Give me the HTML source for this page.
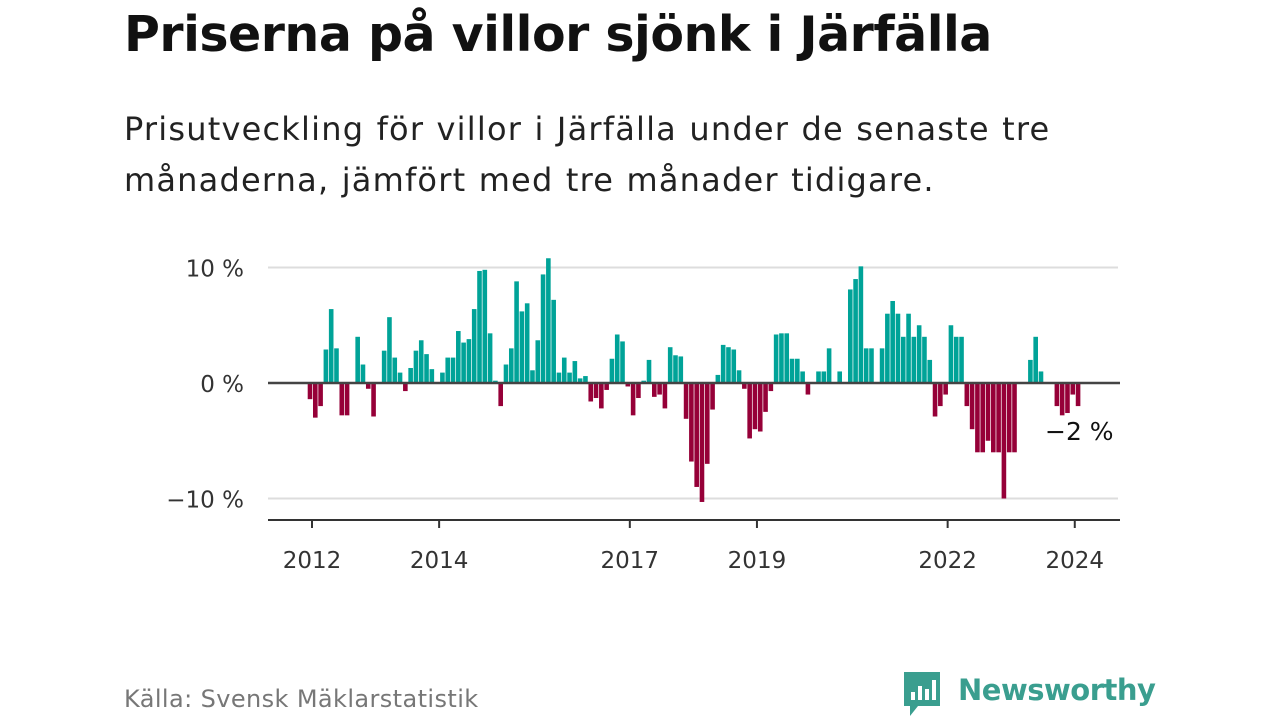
<!DOCTYPE html>
<html><head><meta charset="utf-8"><style>
body{margin:0;width:1280px;height:720px;background:#fff;font-family:"Liberation Sans","DejaVu Sans",sans-serif;overflow:hidden;position:relative}
.t{position:absolute;left:124px;top:6px;font-size:49px;font-weight:bold;color:#111;font-family:"DejaVu Sans","Liberation Sans",sans-serif;letter-spacing:-0.5px}
.s{position:absolute;left:124px;top:104px;font-size:32px;line-height:51px;color:#222;font-family:"DejaVu Sans","Liberation Sans",sans-serif;letter-spacing:1.2px;word-spacing:1px}
.src{position:absolute;left:124px;top:685px;font-size:24px;color:#777;font-family:"DejaVu Sans",sans-serif;letter-spacing:0.4px}
</style></head><body>
<div class="t">Priserna på villor sjönk i Järfälla</div>
<div class="s">Prisutveckling för villor i Järfälla under de senaste tre<br>månaderna, jämfört med tre månader tidigare.</div>
<svg id="c" width="1280" height="720" style="position:absolute;left:0;top:0"></svg>
<div class="src">Källa: Svensk Mäklarstatistik</div>
<div style="position:absolute;left:902px;top:670px;height:50px">
<svg width="40" height="48" style="position:absolute;left:0;top:0"><path d="M2 2h36v34H16l-8 10v-10H2z" fill="#3a9e8f"/><rect x="9" y="22" width="4" height="8" fill="#fff"/><rect x="16" y="16" width="4" height="14" fill="#fff"/><rect x="23" y="19" width="4" height="11" fill="#fff"/><rect x="30" y="10" width="4" height="20" fill="#fff"/></svg>
<span style="position:absolute;left:56px;top:3px;font-size:29px;font-weight:bold;color:#3a9e8f;font-family:'DejaVu Sans',sans-serif;white-space:nowrap;letter-spacing:-0.5px">Newsworthy</span></div>
<script>
const values=[-1.4,-3,-2,2.9,6.4,3,-2.8,-2.8,0,4,1.6,-0.5,-2.9,0,2.8,5.7,2.2,0.9,-0.7,1.3,2.8,3.7,2.5,1.2,
0,0.9,2.2,2.2,4.5,3.5,3.8,6.4,9.7,9.8,4.3,0.2,-2,1.6,3,8.8,6.2,6.9,1.1,3.7,9.4,10.8,7.2,0.9,
2.2,0.9,1.9,0.4,0.6,-1.6,-1.3,-2.2,-0.6,2.1,4.2,3.6,-0.3,-2.8,-1.3,0.2,2,-1.2,-1,-2.2,3.1,2.4,2.3,-3.1,
-6.8,-9,-10.3,-7,-2.3,0.7,3.3,3.1,2.9,1.1,-0.5,-4.8,-4,-4.2,-2.5,-0.7,4.2,4.3,4.3,2.1,2.1,1,-1,0,
1,1,3,0,1,0,8.1,9,10.1,3,3,0,3,6,7.1,6,4,6,4,5,4,2,-2.9,-2,
-1,5,4,4,-2,-4,-6,-6,-5,-6,-6,-10,-6,-6,0,0,2,4,1,0,0,-2,-2.8,-2.6,-1,-2];
const yTicks=[10,0,-10];
const yTickLabels=["10 %","0 %","\u221210 %"];
const xTickYears=[2012,2014,2017,2019,2022,2024];
const lastLabel="\u22122 %";
const svg=document.getElementById('c');const NS='http://www.w3.org/2000/svg';
const x=i=>310+i*5.297;const y=v=>383-v*11.55;
function mk(t,a,p){const e=document.createElementNS(NS,t);for(const k in a)e.setAttribute(k,a[k]);(p||svg).appendChild(e);return e;}
yTicks.forEach((v,k)=>{
 if(v!==0){const g=mk('line',{x1:268,x2:1118,y1:y(v),y2:y(v),stroke:'#ddd','stroke-width':2});
 
 }
 const t=mk('text',{x:244,y:y(v)+9,'text-anchor':'end','font-size':23,fill:'#333','font-family':'DejaVu Sans, sans-serif'});t.textContent=yTickLabels[k];
 
 
});
values.forEach((v,i)=>{if(v===0)return;
 const r=mk('rect',{x:x(i)-2.3,width:4.6,y:v>0?y(v):y(0),height:Math.abs(y(v)-y(0)),fill:v>0?'#00a398':'#960038'});
 
 
});
const z=mk('line',{x1:268,x2:1120,y1:y(0),y2:y(0),stroke:'#444','stroke-width':2.5});


const ax=mk('line',{x1:268,x2:1120,y1:520,y2:520,stroke:'#333','stroke-width':2});


xTickYears.forEach(yr=>{const xx=x((yr-2012)*12)+2;
 const tk=mk('line',{x1:xx,x2:xx,y1:520,y2:528,stroke:'#333','stroke-width':2});
 
 
 const t=mk('text',{x:xx,y:568,'text-anchor':'middle','font-size':23,fill:'#333','font-family':'DejaVu Sans, sans-serif'});t.textContent=yr;
 
 
});
const lb=mk('text',{x:1045,y:440,'font-size':25,fill:'#111','font-family':'DejaVu Sans, sans-serif'});lb.textContent=lastLabel;


</script>
</body></html>
